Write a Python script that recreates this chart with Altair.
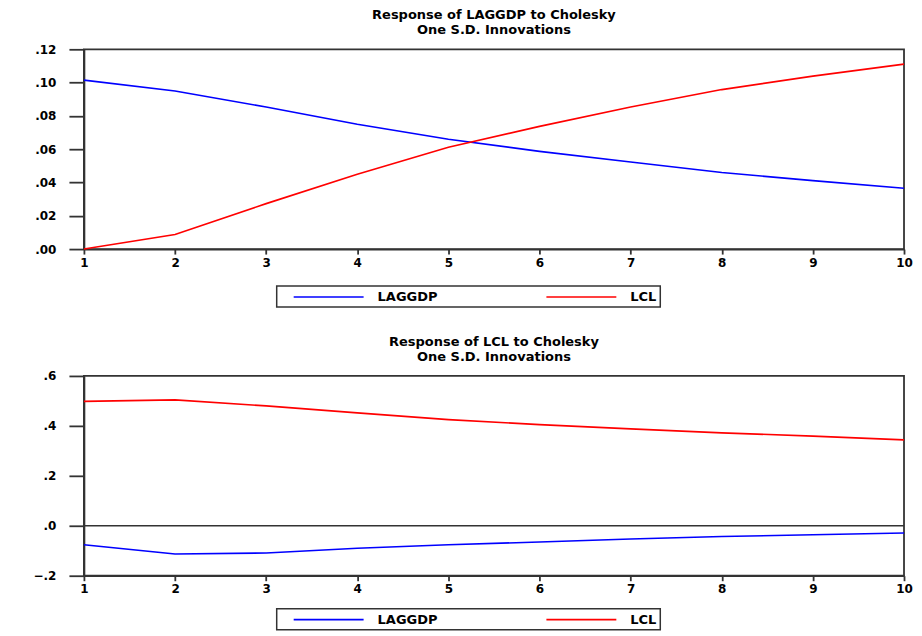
import altair as alt
import pandas as pd

periods = list(range(1, 11))
series = ["LAGGDP", "LCL"]
colors = ["#0000ff", "#ff0000"]

top_laggdp = [0.1015, 0.0950, 0.0853, 0.0750, 0.0660, 0.0587, 0.0523, 0.0460, 0.0411, 0.0365]
top_lcl = [0.0000, 0.0087, 0.0273, 0.0449, 0.0612, 0.0737, 0.0853, 0.0958, 0.1039, 0.1111]
bot_laggdp = [-0.076, -0.113, -0.109, -0.090, -0.076, -0.065, -0.053, -0.043, -0.036, -0.029]
bot_lcl = [0.498, 0.504, 0.480, 0.452, 0.425, 0.405, 0.388, 0.372, 0.359, 0.344]

top_title = ["Response of LAGGDP to Cholesky", "One S.D. Innovations"]
bot_title = ["Response of LCL to Cholesky", "One S.D. Innovations"]
top_ticks = [0.00, 0.02, 0.04, 0.06, 0.08, 0.10, 0.12]
bot_ticks = [-0.2, 0.0, 0.2, 0.4, 0.6]

FONT = "DejaVu Sans"
INK = "#333333"


def long_df(a, b):
    rows = []
    for p, v in zip(periods, a):
        rows.append({"period": p, "series": series[0], "value": v})
    for p, v in zip(periods, b):
        rows.append({"period": p, "series": series[1], "value": v})
    return pd.DataFrame(rows)


def panel(title, df, ydom, yticks, fmt, legend_y, zero=False):
    yscale = alt.Scale(domain=ydom, nice=False, zero=False)
    lines = alt.Chart(df).mark_line(strokeWidth=1.6).encode(
        x=alt.X("period:Q", scale=alt.Scale(domain=[1, 10], nice=False, zero=False),
                axis=alt.Axis(values=periods, title=None, tickSize=5, labelPadding=3,
                              format="d", labelFlush=False)),
        y=alt.Y("value:Q", scale=yscale,
                axis=alt.Axis(values=yticks, title=None, tickSize=15, labelPadding=13,
                              labelExpr="replace(format(datum.value, '%s'), '0.', '.')" % fmt,
                              minExtent=75, maxExtent=75)),
        color=alt.Color("series:N", scale=alt.Scale(domain=series, range=colors),
                        legend=alt.Legend(title=None, orient="none", legendX=193, legendY=legend_y,
                                          direction="horizontal", columns=2,
                                          strokeColor=INK,
                                          padding=3, symbolType="M-5,0L5,0", symbolSize=196,
                                          symbolStrokeWidth=1.6, symbolOffset=41,
                                          labelOffset=41, columnPadding=94,
                                          labelFontSize=13, labelFont=FONT, labelColor="black",
                                          labelFontWeight="bold")),
    )
    layers = [lines]
    if zero:
        zdf = pd.DataFrame({"z": [0.0]})
        layers.append(alt.Chart(zdf).mark_rule(color=INK, strokeWidth=1.5).encode(
            y=alt.Y("z:Q", scale=yscale)))
    return alt.layer(*layers).properties(
        width=821, height=200,
        title=alt.TitleParams(text=title, fontSize=13, font=FONT, fontWeight="bold",
                              anchor="middle", frame="group", offset=6, lineHeight=15,
                              color="black"),
    )


top = panel(top_title, long_df(top_laggdp, top_lcl), [0, 0.12], top_ticks, ".2f", 237)
bot = panel(bot_title, long_df(bot_laggdp, bot_lcl), [-0.2, 0.6], bot_ticks, ".1f", 233, zero=True)

chart = alt.vconcat(top, bot, spacing=26).resolve_legend(color="independent").properties(
    padding={"left": 0, "top": 0, "right": 0, "bottom": 0}
).configure_view(stroke=INK, strokeWidth=1.8).configure_axis(
    domainColor=INK, tickColor=INK, domainWidth=1.8, tickWidth=1.8,
    labelFont=FONT, labelFontSize=12, labelColor="black", labelFontWeight="bold", grid=False,
).configure_legend(strokeWidth=1.5)

chart.save("out.html", embed_options={"renderer": "svg", "actions": False})
